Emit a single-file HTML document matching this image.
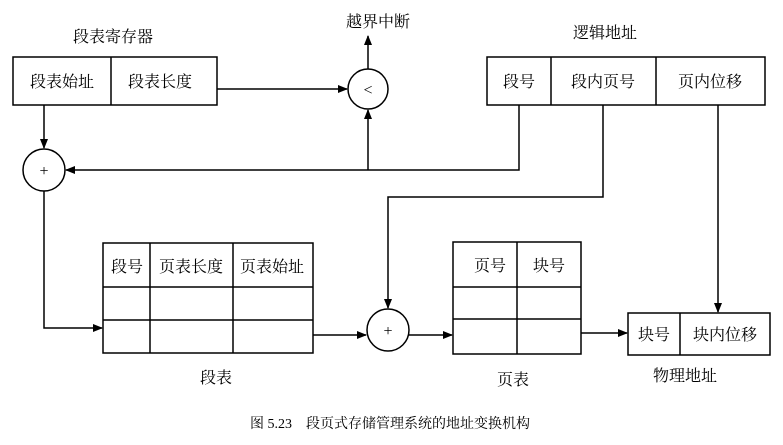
<!DOCTYPE html>
<html><head><meta charset="utf-8"><style>
body{margin:0;background:#fff}
svg text{font-family:"Liberation Serif","Noto Serif CJK SC",serif;font-size:16px;fill:#000}
</style></head><body>
<svg width="783" height="440" viewBox="0 0 783 440" xmlns="http://www.w3.org/2000/svg">
<defs><marker id="a" markerWidth="10" markerHeight="8" refX="9" refY="4" orient="auto" markerUnits="userSpaceOnUse"><path d="M0,0 L10,4 L0,8 z" fill="#000"/></marker></defs>
<g stroke="#000" stroke-width="1.5" fill="none">
<rect x="13" y="57" width="204" height="48"/><line x1="111" y1="57" x2="111" y2="105"/>
<rect x="487" y="57" width="278" height="48"/><line x1="551" y1="57" x2="551" y2="105"/><line x1="656" y1="57" x2="656" y2="105"/>
<circle cx="368" cy="89" r="20"/>
<circle cx="44" cy="170" r="21"/>
<circle cx="388" cy="330" r="21"/>
<rect x="103" y="243" width="210" height="110"/>
<line x1="103" y1="287" x2="313" y2="287"/><line x1="103" y1="320" x2="313" y2="320"/>
<line x1="150" y1="243" x2="150" y2="353"/><line x1="233" y1="243" x2="233" y2="353"/>
<rect x="453" y="242" width="128" height="112"/>
<line x1="453" y1="287" x2="581" y2="287"/><line x1="453" y1="319" x2="581" y2="319"/>
<line x1="517" y1="242" x2="517" y2="354"/>
<rect x="628" y="313" width="142" height="42"/><line x1="680" y1="313" x2="680" y2="355"/>
<!-- connectors -->
<line x1="217" y1="89" x2="347" y2="89" marker-end="url(#a)"/>
<line x1="368" y1="69" x2="368" y2="36" marker-end="url(#a)"/>
<line x1="44" y1="105" x2="44" y2="148" marker-end="url(#a)"/>
<polyline points="519,105 519,170 66,170" marker-end="url(#a)"/>
<line x1="368" y1="170" x2="368" y2="110" marker-end="url(#a)"/>
<polyline points="603,105 603,197 388,197 388,308" marker-end="url(#a)"/>
<line x1="718" y1="105" x2="718" y2="312" marker-end="url(#a)"/>
<polyline points="44,191 44,328 102,328" marker-end="url(#a)"/>
<line x1="313" y1="335" x2="366" y2="335" marker-end="url(#a)"/>
<line x1="409" y1="335" x2="452" y2="335" marker-end="url(#a)"/>
<line x1="581" y1="333" x2="627" y2="333" marker-end="url(#a)"/>
</g>
<text x="113" y="42" text-anchor="middle">段表寄存器</text>
<text x="62" y="87" text-anchor="middle">段表始址</text>
<text x="160" y="87" text-anchor="middle">段表长度</text>
<text x="368" y="95" text-anchor="middle">&lt;</text>
<text x="378" y="27" text-anchor="middle">越界中断</text>
<text x="605" y="38" text-anchor="middle">逻辑地址</text>
<text x="519" y="87" text-anchor="middle">段号</text>
<text x="603" y="87" text-anchor="middle">段内页号</text>
<text x="710" y="87" text-anchor="middle">页内位移</text>
<text x="44" y="176" text-anchor="middle">+</text>
<text x="388" y="336" text-anchor="middle">+</text>
<text x="127" y="272" text-anchor="middle">段号</text>
<text x="191" y="272" text-anchor="middle">页表长度</text>
<text x="272" y="272" text-anchor="middle">页表始址</text>
<text x="216" y="383" text-anchor="middle">段表</text>
<text x="490" y="271" text-anchor="middle">页号</text>
<text x="549" y="271" text-anchor="middle">块号</text>
<text x="513" y="385" text-anchor="middle">页表</text>
<text x="654" y="340" text-anchor="middle">块号</text>
<text x="725" y="340" text-anchor="middle">块内位移</text>
<text x="685" y="381" text-anchor="middle">物理地址</text>
<text x="390" y="428" text-anchor="middle" style="font-size:14px">图 5.23　段页式存储管理系统的地址变换机构</text>
</svg>
</body></html>
